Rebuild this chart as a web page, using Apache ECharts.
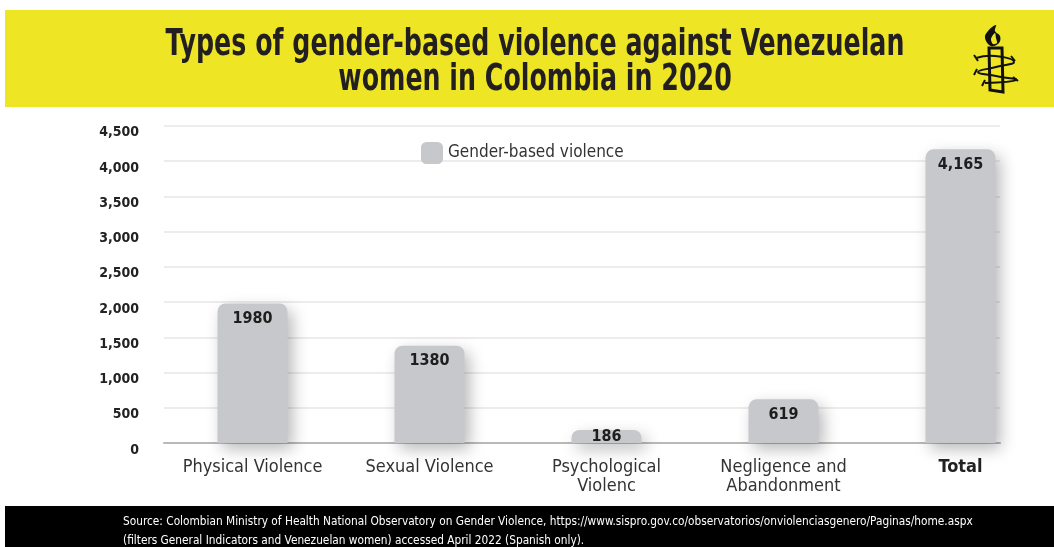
<!DOCTYPE html>
<html>
<head>
<meta charset="utf-8">
<script src="https://cdn.jsdelivr.net/npm/echarts@6/dist/echarts.min.js"></script>
<style>
html,body{margin:0;padding:0;background:#fff;}
#c{width:1054px;height:547px;}
</style>
</head>
<body>
<div id="c"></div>
<script>
const categories = ['Physical Violence', 'Sexual Violence', 'Psychological\nViolenc', 'Negligence and\nAbandonment', 'Total'];
const values = [1980, 1380, 186, 619, 4165];
const valueLabels = ['1980', '1380', '186', '619', '4,165'];
const seriesName = 'Gender-based violence';
const yMax = 4500;
const yInterval = 500;

const FONT = "'DejaVu Sans Condensed','Liberation Sans Narrow',sans-serif";

const chart = echarts.init(document.getElementById('c'), null, {renderer: 'canvas'});

const data = values.map((v, i) => {
  const d = {value: v};
  if (v < 300) d.label = {position: 'inside', distance: 0};
  return d;
});

const option = {
  backgroundColor: '#fff',
  animation: false,
  textStyle: {fontFamily: FONT},
  legend: {
    data: [seriesName],
    left: 416, top: 137,
    icon: 'roundRect', itemWidth: 22, itemHeight: 22, itemGap: 8,
    textStyle: {fontFamily: FONT, fontSize: 17, color: '#333'}
  },
  grid: [
    {left: 164, right: 54, top: 125.75, bottom: 104},
    {left: 164, right: 5, top: 125.75, bottom: 104}
  ],
  xAxis: [
    {type: 'category', gridIndex: 0, data: categories,
     axisLine: {show: true, lineStyle: {color: '#b9b9b9', width: 2}},
     axisTick: {show: false}, axisLabel: {show: false}},
    {type: 'category', gridIndex: 1, data: categories,
     axisLine: {show: false}, axisTick: {show: false},
     axisLabel: {fontFamily: FONT, fontSize: 18, color: '#333', lineHeight: 19, margin: 15, interval: 0,
       formatter: v => v === 'Total' ? '{b|Total}' : v,
       rich: {b: {fontFamily: FONT, fontSize: 18, fontWeight: 'bold', color: '#222'}}}}
  ],
  yAxis: [
    {type: 'value', gridIndex: 0, min: 0, max: yMax, interval: yInterval,
     axisLine: {show: false}, axisTick: {show: false},
     splitLine: {lineStyle: {color: '#e6e6e6', width: 1.5}},
     axisLabel: {fontFamily: FONT, fontSize: 14, fontWeight: 'bold', color: '#222', margin: 25,
       verticalAlign: 'top',
       formatter: v => v.toLocaleString('en-US')}},
    {type: 'value', gridIndex: 1, min: 0, max: yMax, interval: yInterval, show: false, splitLine: {show: false}}
  ],
  series: [{
    name: seriesName, type: 'bar', xAxisIndex: 1, yAxisIndex: 1,
    data: data, barWidth: 70,
    itemStyle: {color: '#c7c8cb', borderRadius: [8, 8, 0, 0],
      shadowBlur: 16, shadowColor: 'rgba(0,0,0,0.28)', shadowOffsetX: 5, shadowOffsetY: 6},
    label: {show: true, position: 'insideTop', distance: 7,
      fontFamily: FONT, fontSize: 16, fontWeight: 'bold', color: '#1e1e1e',
      formatter: p => valueLabels[p.dataIndex]}
  }],
  graphic: [
    {type: 'rect', z: -10, shape: {x: 5, y: 10, width: 1049, height: 97}, style: {fill: '#eee624'}},
    {type: 'rect', z: -10, shape: {x: 5, y: 506, width: 1049, height: 41}, style: {fill: '#000'}},
    {type: 'text', x: 535, y: 28, scaleX: 0.74, z: 10, style: {
      text: 'Types of gender-based violence against Venezuelan\nwomen in Colombia in 2020',
      fill: '#231f20', font: 'bold 38px ' + FONT, lineHeight: 35, align: 'center', verticalAlign: 'top'}},
    {type: 'text', x: 123, y: 512, z: 10, scaleX: 0.98, style: {
      text: 'Source: Colombian Ministry of Health National Observatory on Gender Violence, https://www.sispro.gov.co/observatorios/onviolenciasgenero/Paginas/home.aspx\n(filters General Indicators and Venezuelan women) accessed April 2022 (Spanish only).',
      fill: '#fff', font: '12px ' + FONT, lineHeight: 19, verticalAlign: 'top'}},
    // Amnesty candle logo
    {type: 'polygon', z: 10, shape: {points: [[991, 46], [985, 38], [988, 31], [996, 25], [995, 31], [1000, 36], [999, 43]], smooth: 0.4},
      style: {fill: '#111'}},
    {type: 'polygon', z: 11, shape: {points: [[993, 44], [991, 39], [995, 33], [996, 38], [997, 43]], smooth: 0.3},
      style: {fill: '#eee624'}},
    {type: 'polygon', z: 10, shape: {points: [[989, 48], [1002, 48], [1003, 92], [990, 90]]},
      style: {fill: 'none', stroke: '#111', lineWidth: 3}},
    {type: 'polyline', z: 10, shape: {points: [[976, 58], [995, 56], [1014, 62], [996, 67], [978, 72], [996, 76], [1016, 80], [985, 83]], smooth: 0.5},
      style: {fill: 'none', stroke: '#111', lineWidth: 2}},
    {type: 'line', z: 10, shape: {x1: 974, y1: 55, x2: 978, y2: 61}, style: {stroke: '#111', lineWidth: 2}},
    {type: 'line', z: 10, shape: {x1: 1011, y1: 56, x2: 1015, y2: 61}, style: {stroke: '#111', lineWidth: 2}},
    {type: 'line', z: 10, shape: {x1: 977, y1: 69, x2: 974, y2: 75}, style: {stroke: '#111', lineWidth: 2}},
    {type: 'line', z: 10, shape: {x1: 1013, y1: 77, x2: 1018, y2: 81}, style: {stroke: '#111', lineWidth: 2}},
    {type: 'line', z: 10, shape: {x1: 985, y1: 80, x2: 982, y2: 86}, style: {stroke: '#111', lineWidth: 2}}
  ]
};

chart.setOption(option);
</script>
</body>
</html>
